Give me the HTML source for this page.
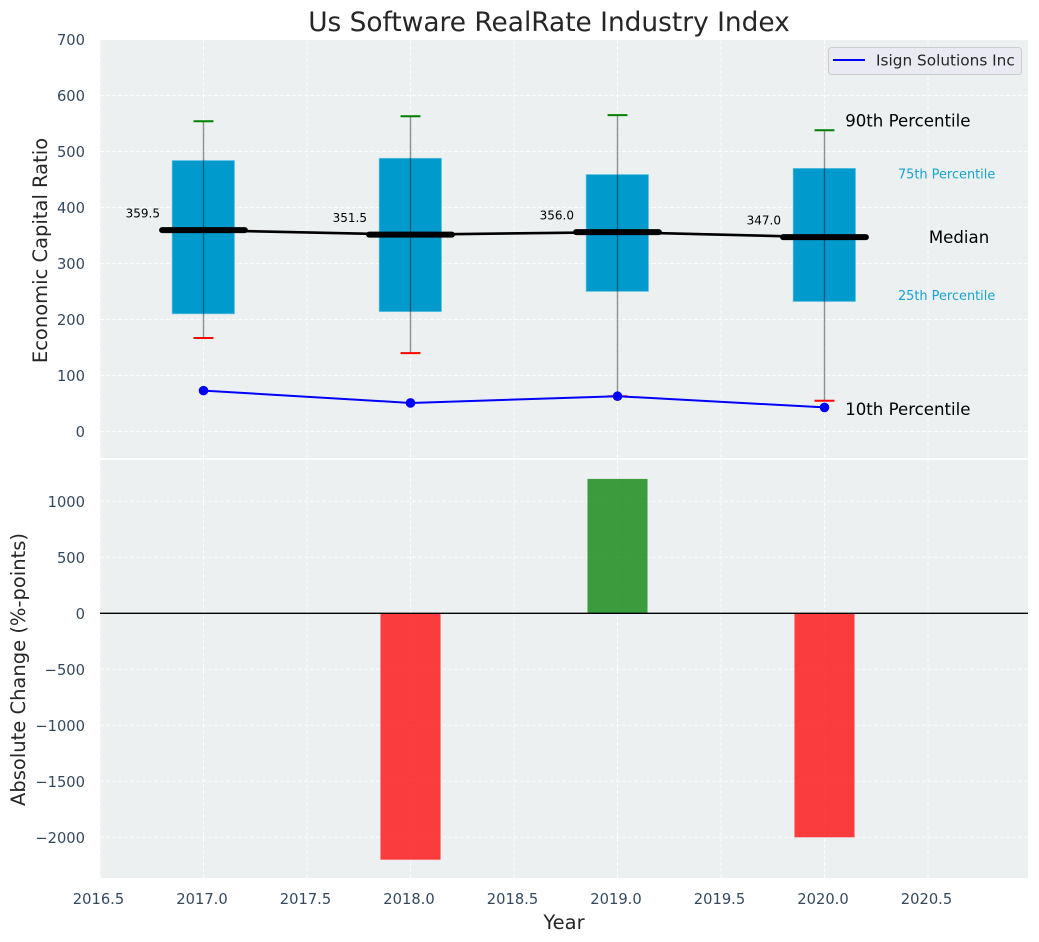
<!DOCTYPE html>
<html lang="en">
<head>
<meta charset="utf-8">
<title>Us Software RealRate Industry Index</title>
<style>
html,body{margin:0;padding:0;background:#fff;width:1039px;height:942px;overflow:hidden}
svg{display:block;font-family:"DejaVu Sans","Liberation Sans",sans-serif}
</style>
</head>
<body>
<svg id="chart" xmlns="http://www.w3.org/2000/svg" width="1039" height="942" viewBox="0 0 1039 942"></svg>
<script>
const years = [2017, 2018, 2019, 2020];
const p90 = [554, 563, 565, 538];
const p75 = [484, 488, 459, 470];
const medians = [359.5, 351.5, 356.0, 347.0];
const p25 = [210, 214, 250, 232];
const p10 = [167, 140, 63, 55];
const companyValues = [73, 51, 63, 43];
const changeValues = [0, -2200, 1200, -2000];
const xTicks = [2016.5, 2017, 2017.5, 2018, 2018.5, 2019, 2019.5, 2020, 2020.5];
const topTicks = [0, 100, 200, 300, 400, 500, 600, 700];
const bottomTicks = [-2000, -1500, -1000, -500, 0, 500, 1000];

const svg = document.getElementById('chart');
const NS = 'http://www.w3.org/2000/svg';
const L = 100, R = 1028, T1 = 40, B1 = 458, T2 = 460, B2 = 878;
const xS = v => 203.5 + (v - 2017) * 207;
const yTop = v => 431.5 - v * 0.56;
const yBot = v => 613.3 - v * 0.112;
const DARK = '#262626', TICK = '#34495e', BOX = '#009acd';

function mk(tag, attrs, text) {
  const e = document.createElementNS(NS, tag);
  for (const k in attrs) e.setAttribute(k, attrs[k]);
  if (text !== undefined) e.textContent = text;
  svg.appendChild(e);
  return e;
}
function minus(v) { return String(v).replace('-', '\u2212'); }

let n;
n = mk('rect', {x: L, y: T1, width: R - L, height: B1 - T1, fill: '#ecf0f1'});


n = mk('rect', {x: L, y: T2, width: R - L, height: B2 - T2, fill: '#ecf0f1'});



const gridStyle = {stroke: '#fff', 'stroke-width': 1, 'stroke-dasharray': '4 2', opacity: 0.85};
xTicks.forEach(t => {
  n = mk('line', {x1: xS(t), x2: xS(t), y1: T1, y2: B1, ...gridStyle});
  
  
  n = mk('line', {x1: xS(t), x2: xS(t), y1: T2, y2: B2, ...gridStyle});
  
  
  n = mk('text', {x: xS(t) - 1.5, y: 904, 'text-anchor': 'middle', 'font-size': 14.7, fill: TICK}, t.toFixed(1));
  
  
});
topTicks.forEach(t => {
  n = mk('line', {x1: L, x2: R, y1: yTop(t), y2: yTop(t), ...gridStyle});
  
  
  n = mk('text', {x: 85, y: yTop(t) + 5.5, 'text-anchor': 'end', 'font-size': 14.7, fill: TICK}, String(t));
  
  
});
bottomTicks.forEach(t => {
  n = mk('line', {x1: L, x2: R, y1: yBot(t), y2: yBot(t), ...gridStyle});
  
  
  n = mk('text', {x: 85, y: yBot(t) + 5.5, 'text-anchor': 'end', 'font-size': 14.7, fill: TICK}, minus(t));
  
  
});

/* percentile boxes */
years.forEach((yr, i) => {
  n = mk('rect', {x: xS(yr - 0.15) - 0.4, y: yTop(p75[i]), width: xS(yr + 0.15) - xS(yr - 0.15) + 0.4, height: yTop(p25[i]) - yTop(p75[i]), fill: BOX, stroke: '#7fcde6', 'stroke-width': 0.6});
  
  
});

/* median connecting line */
n = mk('polyline', {points: years.map((yr, i) => xS(yr) + ',' + yTop(medians[i])).join(' '), fill: 'none', stroke: '#000', 'stroke-width': 2.6});



years.forEach((yr, i) => {
  n = mk('line', {x1: xS(yr), x2: xS(yr), y1: yTop(p90[i]), y2: yTop(p10[i]), stroke: '#000', 'stroke-opacity': 0.42, 'stroke-width': 1.4});
  
  
  n = mk('line', {x1: xS(yr - 0.048), x2: xS(yr + 0.048), y1: yTop(p90[i]), y2: yTop(p90[i]), stroke: '#008000', 'stroke-width': 2});
  
  
  n = mk('line', {x1: xS(yr - 0.048), x2: xS(yr + 0.048), y1: yTop(p10[i]), y2: yTop(p10[i]), stroke: '#ff0000', 'stroke-width': 2});
  
  
  n = mk('line', {x1: xS(yr - 0.2), x2: xS(yr + 0.2), y1: yTop(medians[i]), y2: yTop(medians[i]), stroke: '#000', 'stroke-width': 6, 'stroke-linecap': 'round'});
  
  
  n = mk('text', {x: xS(yr) - 60.7, y: yTop(medians[i]) - 12.5, 'text-anchor': 'middle', 'font-size': 12, fill: '#000'}, medians[i].toFixed(1));
  
  
});

/* company series */
n = mk('polyline', {points: years.map((yr, i) => xS(yr) + ',' + yTop(companyValues[i])).join(' '), fill: 'none', stroke: '#0000ff', 'stroke-width': 2});


years.forEach((yr, i) => {
  n = mk('circle', {cx: xS(yr), cy: yTop(companyValues[i]), r: 4.8, fill: '#0000ff'});
  
  
});

/* percentile annotations for the last year */
const last = years.length - 1, lastYear = years[last];
n = mk('text', {x: xS(lastYear + 0.1), y: yTop(p90[last] + 17) + 5.8, 'font-size': 16.6, fill: '#000'}, '90th Percentile');


n = mk('text', {x: xS(lastYear + 0.1), y: yTop(p10[last] - 15) + 5.8, 'font-size': 16.6, fill: '#000'}, '10th Percentile');


n = mk('text', {x: xS(lastYear + 0.59), y: yTop(p75[last] - 10) + 4.6, 'text-anchor': 'middle', 'font-size': 12.9, fill: '#16a4d2'}, '75th Percentile');


n = mk('text', {x: xS(lastYear + 0.59), y: yTop(p25[last] + 11) + 4.6, 'text-anchor': 'middle', 'font-size': 12.9, fill: '#16a4d2'}, '25th Percentile');


n = mk('text', {x: xS(lastYear + 0.65), y: yTop(medians[last]) + 5.8, 'text-anchor': 'middle', 'font-size': 16.6, fill: '#000'}, 'Median');



/* change bars */
years.forEach((yr, i) => {
  const v = changeValues[i];
  const y0 = Math.min(yBot(v), yBot(0));
  n = mk('rect', {x: xS(yr - 0.145), y: y0, width: xS(yr + 0.145) - xS(yr - 0.145), height: Math.abs(yBot(v) - yBot(0)), fill: v < 0 ? '#ff0000' : '#008000', 'fill-opacity': 0.75});
  
  
});
n = mk('line', {x1: L, x2: R, y1: yBot(0), y2: yBot(0), stroke: '#000', 'stroke-width': 1.4});



/* legend */
n = mk('rect', {x: 828.5, y: 47.5, width: 193, height: 27, rx: 3, fill: '#eaeaf2', 'fill-opacity': 0.9, stroke: '#cccccc', 'stroke-width': 1});


n = mk('line', {x1: 833, x2: 865, y1: 60, y2: 60, stroke: '#0000ff', 'stroke-width': 2});


n = mk('text', {x: 876, y: 65.5, 'font-size': 15.3, fill: DARK}, 'Isign Solutions Inc');



/* titles */
n = mk('text', {x: 549, y: 31, 'text-anchor': 'middle', 'font-size': 26.4, fill: DARK}, 'Us Software RealRate Industry Index');


n = mk('text', {x: 564, y: 929, 'text-anchor': 'middle', 'font-size': 19.5, fill: DARK}, 'Year');


n = mk('text', {transform: 'translate(47 250.5) rotate(-90)', 'text-anchor': 'middle', 'font-size': 19.5, fill: DARK}, 'Economic Capital Ratio');


n = mk('text', {transform: 'translate(25 669.5) rotate(-90)', 'text-anchor': 'middle', 'font-size': 19.5, fill: DARK}, 'Absolute Change (%-points)');


</script>
</body>
</html>
